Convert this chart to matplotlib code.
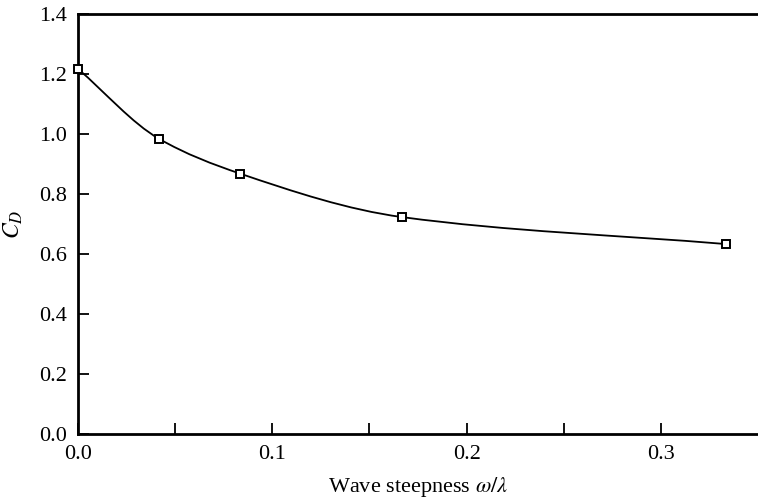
import numpy as np
import matplotlib
matplotlib.use('Agg')
import matplotlib.pyplot as plt
from matplotlib.path import Path
from matplotlib.patches import PathPatch

# wave steepness vs drag coefficient
steepness = [0.0, 1/24, 1/12, 1/6, 1/3]
cd = [1.217, 0.984, 0.868, 0.723, 0.633]

xticks = [0.0, 0.1, 0.2, 0.3]
yticks = [0.0, 0.2, 0.4, 0.6, 0.8, 1.0, 1.2, 1.4]

plt.rcParams['font.family'] = 'Liberation Serif'
plt.rcParams['mathtext.fontset'] = 'stix'


def pchip_slopes(x, y):
    x = np.asarray(x); y = np.asarray(y)
    h = np.diff(x)
    d = np.diff(y) / h
    m = np.zeros_like(y)
    for k in range(1, len(x) - 1):
        if d[k-1] * d[k] > 0:
            w1 = 2*h[k] + h[k-1]
            w2 = h[k] + 2*h[k-1]
            m[k] = (w1 + w2) / (w1/d[k-1] + w2/d[k])
    # end slopes follow the chords
    m[0] = d[0]
    m[-1] = d[-1]
    return m


# smooth curve through the measured points as cubic bezier segments
m = pchip_slopes(steepness, cd)
verts = [(steepness[0], cd[0])]
codes = [Path.MOVETO]
for i in range(len(steepness) - 1):
    h = steepness[i+1] - steepness[i]
    verts += [(steepness[i] + h/3, cd[i] + m[i]*h/3),
              (steepness[i+1] - h/3, cd[i+1] - m[i+1]*h/3),
              (steepness[i+1], cd[i+1])]
    codes += [Path.CURVE4] * 3

fig = plt.figure(figsize=(7.58, 5.01), dpi=100)
ax = fig.add_axes([0.103, 0.134, 0.897, 0.838])

ax.add_patch(PathPatch(Path(verts, codes), facecolor='none', edgecolor='black', lw=1.3, zorder=2))
ax.plot(steepness, cd, linestyle='none', marker='s', markersize=6,
        markerfacecolor='white', markeredgecolor='black', markeredgewidth=1.4, zorder=3, clip_on=False)

ax.set_xlim(0, 0.35)
ax.set_ylim(0, 1.4)
ax.set_xticks(xticks)
ax.set_xticks([0.05, 0.15, 0.25], minor=True)
ax.set_xticklabels(['%.1f' % t for t in xticks])
ax.set_yticks(yticks)
ax.set_yticklabels(['%.1f' % t for t in yticks])
ax.tick_params(which='both', direction='in', length=8, width=1.3, labelsize=16, pad=8, top=False, right=False)

for s in ['left', 'bottom', 'top']:
    ax.spines[s].set_linewidth(2)
ax.spines['right'].set_visible(False)

ax.set_xlabel(r'Wave steepness $\omega/\lambda$', fontsize=16, labelpad=8)
ax.set_ylabel(r'$C_D$', fontsize=17, labelpad=10)

fig.savefig('out.png', dpi=100)
